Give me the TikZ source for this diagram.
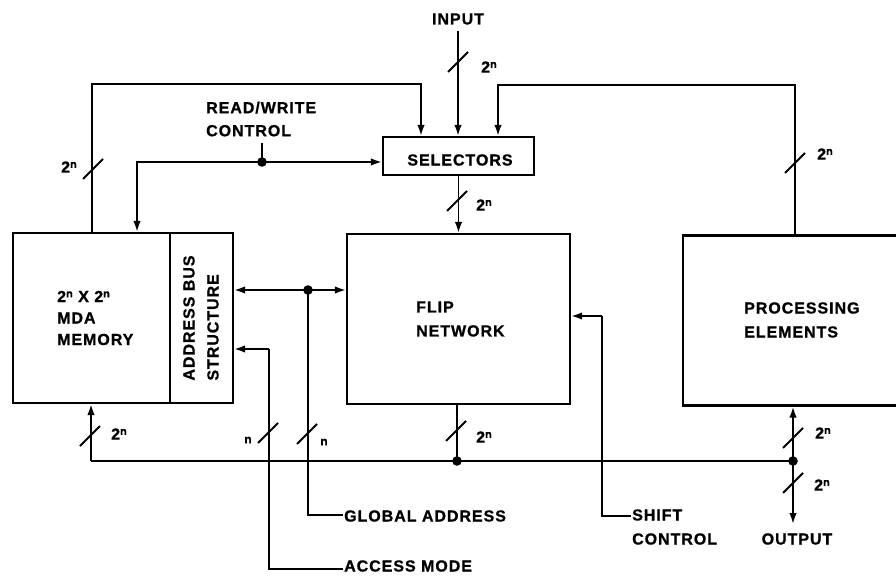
\documentclass[tikz,border=0pt]{standalone}
\usepackage{fontspec}
\newfontfamily\lblfont{Liberation Sans}[LetterSpace=6, BoldFeatures={FakeBold=1}]
\usetikzlibrary{arrows.meta}
\newcommand\twon{2\raisebox{0.55ex}{\fontsize{11}{11}\selectfont n}}
\begin{document}
\begin{tikzpicture}[x=1pt,y=-1pt,
  box/.style={draw, line width=2.2pt, inner sep=0pt},
  wire/.style={line width=1.9pt},
  arr/.style={wire,-{Latex[length=11pt,width=7.5pt]}},
  darr/.style={wire,{Latex[length=11pt,width=7.5pt]}-{Latex[length=11pt,width=7.5pt]}},
  txt/.style={font=\lblfont\bfseries\fontsize{16}{22}\selectfont, inner sep=1pt, align=left},
  wide/.style={font=\lblfont\bfseries\fontsize{16}{24}\selectfont},
  small/.style={font=\lblfont\bfseries\fontsize{12}{12}\selectfont},
  busmark/.pic={\draw[line width=1.9pt] (-10,10) -- (10,-10);}
]
\useasboundingbox (0,0) rectangle (896,580);
\clip (0,0) rectangle (896,580);

% boxes
\node[box, minimum width=157pt, minimum height=170pt] (mem) at (91.5,318) {};
\node[box, minimum width=63pt, minimum height=170pt] (abs) at (201.5,318) {};
\node[box, minimum width=151pt, minimum height=38pt] (sel) at (458.5,156) {};
\node[box, minimum width=223pt, minimum height=170pt] (flip) at (458.5,319) {};
\node[box, minimum width=240pt, minimum height=170pt] (pe) at (803,320.5) {};

% box texts
\node[txt, anchor=west, font=\lblfont\bfseries\fontsize{16}{21.5}\selectfont] (memtxt) at (56,318) {\twon{} X \twon\\MDA\\MEMORY};
\node[txt, wide, rotate=90] (abstxt) at (201,318) {ADDRESS BUS\\STRUCTURE};
\node[txt] (seltxt) at (460,160) {SELECTORS};
\node[txt, wide, anchor=west] (fliptxt) at (415,319) {FLIP\\NETWORK};
\node[txt, wide, anchor=west] (petxt) at (743,320) {PROCESSING\\ELEMENTS};

% outer labels
\node[txt] (inlbl) at (458,19) {INPUT};
\node[txt, anchor=west, font=\lblfont\bfseries\fontsize{16}{23}\selectfont] (rwlbl) at (205,119) {READ/WRITE\\CONTROL};
\node[txt, anchor=west] (gllbl) at (343,516) {GLOBAL ADDRESS};
\node[txt, anchor=west] (amlbl) at (343,566) {ACCESS MODE};
\node[txt, anchor=west] (shlbl) at (631,515) {SHIFT};
\node[txt, anchor=west] (ctlbl) at (631,539) {CONTROL};
\node[txt] (outlbl) at (797,539) {OUTPUT};

% junction coordinates
\coordinate (tlc) at (92,84);
\coordinate (tlr) at (421,84);
\coordinate (trl) at (498,85);
\coordinate (trr) at (795,85);
\coordinate (rwd) at (262,162);
\coordinate (rwl) at (137,162);
\coordinate (rwt) at (262,143);
\coordinate (gad) at (308,290);
\coordinate (gab) at (308,515);
\coordinate (acc) at (269,349);
\coordinate (acb) at (269,569);
\coordinate (sh) at (602,316);
\coordinate (shb) at (602,516);
\coordinate (bl) at (91,461);
\coordinate (bf) at (457,461);
\coordinate (br) at (793,461);
\coordinate (outend) at (793,524);

% top loops into selectors
\draw[arr] (mem.north -| tlc) -- (tlc) -- (tlr) -- (tlr |- sel.north);
\draw[arr] (pe.north -| trr) -- (trr) -- (trl) -- (trl |- sel.north);
\draw[arr] (inlbl.south |- 0,31) -- (inlbl.south |- sel.north);

% read/write control
\draw[arr] (rwd) -- (sel.west |- rwd);
\draw[arr] (rwd) -- (rwl) -- (rwl |- mem.north);
\draw[wire] (rwd) -- (rwt);
\fill (rwd) circle (4.8);

% selectors to flip
\draw[arr] (sel.south) -- (flip.north);

% address connections
\draw[darr] (abs.east |- gad) -- (flip.west |- gad);
\fill (gad) circle (4.8);
\draw[wire] (gad) -- (gab) -- (gllbl.west |- gab);
\draw[arr] (acc) -- (abs.east |- acc);
\draw[wire] (acc) -- (acb) -- (amlbl.west |- acb);

% shift control
\draw[arr] (sh) -- (flip.east |- sh);
\draw[wire] (sh) -- (shb) -- (shlbl.west |- shb);

% bottom bus
\draw[wire] (bl) -- (br);
\draw[arr] (bl) -- (bl |- mem.south);
\draw[wire] (flip.south -| bf) -- (bf);
\fill (bf) circle (4.8);
\draw[arr] (br) -- (br |- pe.south);
\draw[arr] (br) -- (outend);
\fill (br) circle (4.8);

% bus width marks
\pic at (458,62) {busmark};
\pic at (457,201) {busmark};
\pic at (93,169) {busmark};
\pic at (795,163) {busmark};
\pic at (90,436) {busmark};
\pic at (268,433) {busmark};
\pic at (307,434) {busmark};
\pic at (456,431) {busmark};
\pic at (793,438) {busmark};
\pic at (793,483) {busmark};

% bus width labels
\node[txt] (w1) at (489,67) {\twon};
\node[txt] (w2) at (484,205) {\twon};
\node[txt] (w3) at (69,167) {\twon};
\node[txt] (w4) at (825,154) {\twon};
\node[txt] (w5) at (119,434) {\twon};
\node[txt, small] (w6) at (248,440) {n};
\node[txt, small] (w7) at (324,442) {n};
\node[txt] (w8) at (484,437) {\twon};
\node[txt] (w9) at (823,433) {\twon};
\node[txt] (w10) at (822,485) {\twon};
\end{tikzpicture}
\end{document}
